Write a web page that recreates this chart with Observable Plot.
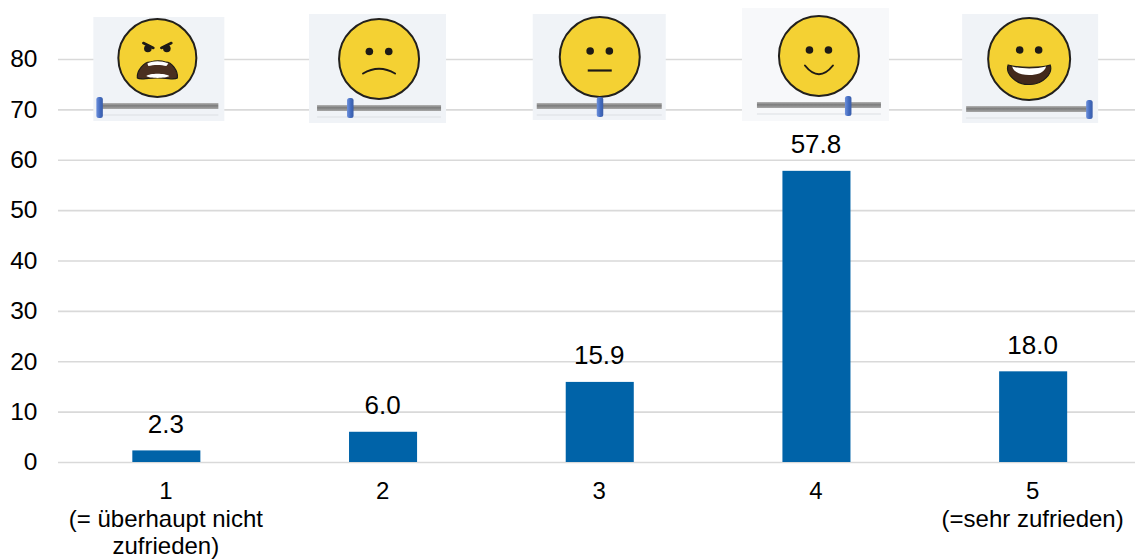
<!DOCTYPE html>
<html>
<head>
<meta charset="utf-8">
<script src="https://cdn.jsdelivr.net/npm/d3@7"></script>
<script src="https://cdn.jsdelivr.net/npm/@observablehq/plot@0.6"></script>
<style>
  html, body { margin: 0; padding: 0; background: #fff; }
  svg { display: block; }
</style>
</head>
<body>
<div id="chart"></div>
<script>
// Satisfaction ratings: share of answers per scale point
const categories = ["1", "2", "3", "4", "5"];
const shares = [2.3, 6.0, 15.9, 57.8, 18.0];
const tickLabels = ["1\n(= überhaupt nicht\nzufrieden)", "2", "3", "4", "5\n(=sehr zufrieden)"];
const yTicks = [0, 10, 20, 30, 40, 50, 60, 70, 80];

const rows = categories.map((c, i) => ({category: c, share: shares[i], label: shares[i].toFixed(1)}));
const tickLabelOf = new Map(categories.map((c, i) => [c, tickLabels[i]]));

const FONT = "'Liberation Sans', Arial, sans-serif";
const BAR = "#0063a8";
const NS = "http://www.w3.org/2000/svg";

// Each mood card sits above its category; offsets are relative to the face centre.
const cards = [
  {category: "1", dx: -9,   dy: -1, left: -64, right: 67, top: -41, bottom: 63, r: 39, bg: "#f0f3f7",
   trackL: -57, trackR: 61, trackY: 45, knobX: -58, knobTop: 39, knobBottom: 60, mood: "angry"},
  {category: "2", dx: -4,   dy: 0,  left: -70, right: 67, top: -45, bottom: 64, r: 40, bg: "#f0f3f7",
   trackL: -62, trackR: 62, trackY: 46, knobX: -29, knobTop: 39, knobBottom: 59, mood: "sad"},
  {category: "3", dx: 0,    dy: -2, left: -67, right: 66, top: -43, bottom: 63, r: 40, bg: "#f0f3f7",
   trackL: -63, trackR: 62, trackY: 46, knobX: 0,  knobTop: 40, knobBottom: 60, mood: "neutral"},
  {category: "4", dx: 2.5,  dy: -3, left: -77, right: 70, top: -48, bottom: 65, r: 40, bg: "#f7f8fa",
   trackL: -62, trackR: 62, trackY: 46, knobX: 29, knobTop: 40, knobBottom: 60, mood: "happy"},
  {category: "5", dx: -4,   dy: 0,  left: -67, right: 69, top: -45, bottom: 64, r: 41, bg: "#f0f3f7",
   trackL: -63, trackR: 59, trackY: 47, knobX: 60, knobTop: 41, knobBottom: 60, mood: "joy"}
];

function el(name, attrs, parent) {
  const node = document.createElementNS(NS, name);
  for (const k in attrs) node.setAttribute(k, attrs[k]);
  if (parent) parent.appendChild(node);
  return node;
}

function eyes(g, dx, y, r) {
  el("circle", {cx: -dx, cy: y, r, fill: "#1d1a17"}, g);
  el("circle", {cx: dx, cy: y, r, fill: "#1d1a17"}, g);
}

// Facial features, drawn around the centre of the face
const moods = {
  angry(g) {
    eyes(g, 9.5, -9.5, 3.8);
    el("path", {d: "M-14,-15 L-4,-10 M14,-15 L4,-10", stroke: "#1d1a17", "stroke-width": 2.6, fill: "none", "stroke-linecap": "round"}, g);
    el("path", {d: "M-20,20 C-21,13 -13,3.5 -7,4 C-2,2.5 4,2.5 8,4 C14,3.5 21,13 20,20 C17,22 12,20 0,20 C-12,20 -17,22 -20,20 Z", fill: "#4a2f20", stroke: "#1d1a17", "stroke-width": 1.2}, g);
    el("path", {d: "M-10,5.5 C-4,2.5 4,2.5 11,5.5 L9,8 C4,6.5 -4,6.5 -9,8 Z", fill: "#fff"}, g);
    el("path", {d: "M-11,18 C-8,15 8,15 12,18 C8,20.5 -8,20.5 -11,18 Z", fill: "#fff"}, g);
  },
  sad(g) {
    eyes(g, 9.7, -7.5, 3.8);
    el("path", {d: "M-16,14.5 Q0,5 16,14.5", stroke: "#1d1a17", "stroke-width": 2, fill: "none", "stroke-linecap": "round"}, g);
  },
  neutral(g) {
    eyes(g, 9.6, -6, 3.8);
    el("path", {d: "M-12,13.5 L12,13.5", stroke: "#1d1a17", "stroke-width": 2.2, fill: "none"}, g);
  },
  happy(g) {
    eyes(g, 9.5, -6, 3.8);
    el("path", {d: "M-14,9.5 Q0,27 14,9.5", stroke: "#1d1a17", "stroke-width": 2, fill: "none", "stroke-linecap": "round"}, g);
  },
  joy(g) {
    eyes(g, 9.5, -9, 3.8);
    el("path", {d: "M-21,6 C-12,9 12,9 21,6 C24,14 14,26 0,25.5 C-14,26 -24,14 -21,6 Z", fill: "#43291c", stroke: "#1d1a17", "stroke-width": 1.2}, g);
    el("path", {d: "M-17,7.5 C-8,10 8,10 17,7.5 C15,14 8,16 0,16 C-8,16 -15,14 -17,7.5 Z", fill: "#fff"}, g);
  }
};

// Custom mark: the row of mood cards, anchored through the chart's own scales
function moodCards(index, {x, y}) {
  const band = typeof x.bandwidth === "function" ? x.bandwidth() : x.bandwidth;
  const root = el("g", {});
  const defs = el("defs", {}, root);
  const track = el("linearGradient", {id: "track-shade", x1: 0, y1: 0, x2: 0, y2: 1}, defs);
  [[0, "#b4b4b4"], [0.45, "#7c7c7c"], [1, "#a8a8a8"]].forEach(([o, c]) =>
    el("stop", {offset: o, "stop-color": c}, track));
  const knob = el("linearGradient", {id: "knob-shade", x1: 0, y1: 0, x2: 1, y2: 0}, defs);
  [[0, "#6d90dc"], [0.6, "#4169bd"], [1, "#3a5da8"]].forEach(([o, c]) =>
    el("stop", {offset: o, "stop-color": c}, knob));

  for (const c of cards) {
    const cx = x(c.category) + band / 2 + c.dx;
    const cy = y(80) + c.dy;
    const g = el("g", {transform: `translate(${cx},${cy})`}, root);
    el("rect", {x: c.left, y: c.top, width: c.right - c.left, height: c.bottom - c.top, fill: c.bg}, g);
    el("rect", {x: c.trackL, y: c.trackY, width: c.trackR - c.trackL, height: 6, fill: "url(#track-shade)"}, g);
    el("line", {x1: c.trackL, x2: c.trackR, y1: c.trackY + 12, y2: c.trackY + 12, stroke: "#dcdfe3", "stroke-width": 1}, g);
    el("circle", {r: c.r, fill: "#f4d133", stroke: "#22201d", "stroke-width": 2}, g);
    moods[c.mood](g);
    el("rect", {x: c.knobX - 3, y: c.knobTop, width: 6.5, height: c.knobBottom - c.knobTop, rx: 2.5, fill: "url(#knob-shade)"}, g);
  }
  return root;
}

const chart = Plot.plot({
  width: 1135,
  height: 559,
  marginLeft: 58,
  marginRight: 0,
  marginTop: 0,
  marginBottom: 97,
  style: {fontFamily: FONT, background: "#fff", color: "#000", overflow: "hidden"},
  x: {type: "band", domain: categories, range: [58, 1141.5], paddingInner: 0.686, paddingOuter: 0.343, align: 0.5, round: false},
  y: {domain: [0, 80], range: [462, 59]},
  marks: [
    Plot.ruleY(yTicks, {stroke: "#d9d9d9", strokeWidth: 1.6}),
    Plot.barY(rows, {x: "category", y: "share", fill: BAR}),
    Plot.text(rows, {x: "category", y: "share", text: "label", dx: -1, dy: -26.5, fontSize: 26, fill: "#000"}),
    Plot.axisY({ticks: yTicks, tickSize: 0, tickPadding: 21, fontSize: 24.5, label: null, anchor: "left", fill: "#000"}),
    Plot.axisX({tickSize: 0, tickPadding: 17, dx: -1, fontSize: 24, label: null, lineHeight: 1.15, lineAnchor: "top",
      tickFormat: d => tickLabelOf.get(d), fill: "#000"}),
    moodCards
  ]
});

document.getElementById("chart").appendChild(chart);
</script>
</body>
</html>
